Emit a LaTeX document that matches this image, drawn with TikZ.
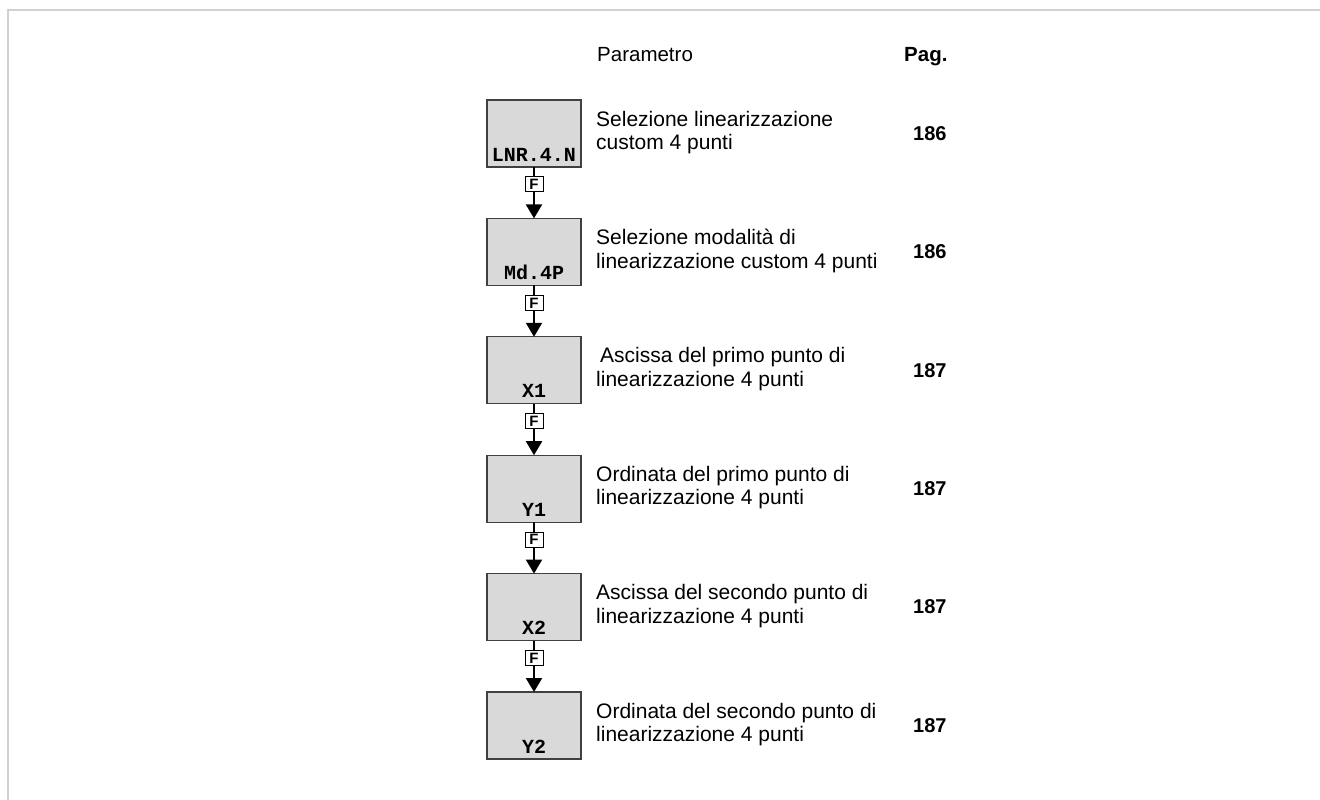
\documentclass[tikz,border=0pt]{standalone}
\usepackage{fontspec}
\setmainfont{Liberation Sans}
\newfontfamily\monob{Liberation Mono}
\usetikzlibrary{arrows.meta}
\begin{document}
\begin{tikzpicture}[x=1pt,y=-1pt,
  framel/.style={draw=black!18,line width=2pt},
  parbox/.style={draw=black!75,fill=black!15,line width=1.2pt,minimum width=94pt,minimum height=67pt,inner sep=0pt,outer sep=0pt},
  lbl/.style={font=\monob\bfseries\fontsize{20}{20}\selectfont,anchor=base,inner sep=0pt},
  conn/.style={line width=2pt,-{Triangle[length=14pt,width=16pt]}},
  fbox/.style={draw=black,fill=white,line width=1pt,minimum width=18pt,minimum height=15pt,inner sep=0pt,font=\bfseries\fontsize{15}{15}\selectfont},
  desc/.style={anchor=west,align=left,inner sep=0pt,font=\fontsize{21}{23.5}\selectfont},
  pg/.style={anchor=west,inner sep=0pt,font=\bfseries\fontsize{20}{20}\selectfont},
  hdr/.style={anchor=base west,inner sep=0pt,font=\fontsize{20.5}{20}\selectfont}]
\useasboundingbox (0,0) rectangle (1320,800);
\draw[framel] (1320,10) -- (8,10) -- (8,800);
\node[hdr] (hpar) at (597,61.5) {Parametro};
\node[hdr,font=\bfseries\fontsize{20.5}{20}\selectfont] (hpag) at (904,61.5) {Pag.};
% boxes
\foreach \i/\t in {1/LNR.4.N,2/Md.4P,3/X1,4/Y1,5/X2,6/Y2}{
  \pgfmathsetmacro{\cy}{133.5+118.4*(\i-1)}
  \node[parbox] (b\i) at (534,\cy) {};
  \node[lbl] (l\i) at (534,\cy+27.5) {\t};
}
% connectors
\foreach \i [evaluate=\i as \j using int(\i+1)] in {1,...,5}{
  \draw[conn] (b\i.south) -- node[fbox,pos=0.34] (f\i) {F} (b\j.north);
}
% descriptions
\node[desc] (d1) at (596,132.5) {Selezione linearizzazione\\custom 4 punti};
\node[desc] (d2) at (596,250.9) {Selezione modalità di\\linearizzazione custom 4 punti};
\node[desc] (d3) at (596,369.3) {\hspace{4pt}Ascissa del primo punto di\\linearizzazione 4 punti};
\node[desc] (d4) at (596,487.7) {Ordinata del primo punto di\\linearizzazione 4 punti};
\node[desc] (d5) at (596,606.1) {Ascissa del secondo punto di\\linearizzazione 4 punti};
\node[desc] (d6) at (596,724.5) {Ordinata del secondo punto di\\linearizzazione 4 punti};
% pages
\node[pg] (p1) at (913,133.5) {186};
\node[pg] (p2) at (913,251.9) {186};
\node[pg] (p3) at (913,370.3) {187};
\node[pg] (p4) at (913,488.7) {187};
\node[pg] (p5) at (913,607.1) {187};
\node[pg] (p6) at (913,725.5) {187};
\end{tikzpicture}
\end{document}
